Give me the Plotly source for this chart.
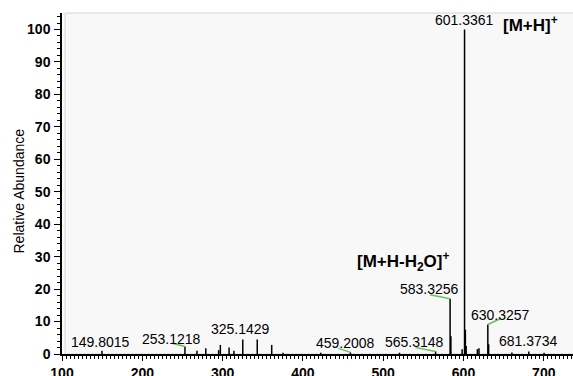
import plotly.graph_objects as go

# ---- data ----
mz = [149.8015, 253.1218, 268.1, 279.1, 295.1, 297.2, 308.1, 314.1, 325.1429, 343.15,
      361.16, 375.2, 422.2, 459.2008, 520.3, 565.3148, 583.3256, 584.33, 598.3, 601.3361,
      602.34, 603.34, 617.3, 619.3, 630.3257, 631.33, 660.3, 681.3734, 700.4]
intensity = [1.0, 2.3, 1.0, 1.8, 1.2, 2.8, 2.0, 1.0, 4.5, 4.5,
             2.8, 0.4, 0.4, 0.5, 0.4, 0.8, 17.0, 5.5, 1.5, 100.0,
             7.5, 2.5, 1.5, 1.8, 9.1, 3.0, 0.5, 0.8, 0.4]

labelled_mz = [149.8015, 253.1218, 325.1429, 459.2008, 565.3148, 583.3256, 601.3361, 630.3257, 681.3734]
labelled_text = ["149.8015", "253.1218", "325.1429", "459.2008", "565.3148", "583.3256", "601.3361", "630.3257", "681.3734"]

x_ticks = [100, 200, 300, 400, 500, 600, 700]
y_ticks = [0, 10, 20, 30, 40, 50, 60, 70, 80, 90, 100]

# ---- layout constants ----
W, H = 573, 376
ML, MR, MT, MB = 62, 0, 13, 22
X_RANGE = [100, 736.4]
Y_RANGE = [0, 105.08]
px_per_x = (W - ML - MR) / (X_RANGE[1] - X_RANGE[0])
px_per_y = (H - MT - MB) / (Y_RANGE[1] - Y_RANGE[0])

# label pixel offsets (label centre relative to peak top)
label_shift = {149.8015: (-1, 9), 253.1218: (-13, 8), 325.1429: (-2, 10), 459.2008: (-5, 9),
               565.3148: (-21, 9), 583.3256: (-21, 9.5), 601.3361: (0, 9.5), 630.3257: (13, 9.5),
               681.3734: (0, 10)}
# green connector pixel offsets from peak top
connector = {253.1218: (-12, 3), 459.2008: (-12, 4), 565.3148: (-20, 4), 583.3256: (-20, 4),
             630.3257: (13, 6)}

peak_h = dict(zip(mz, intensity))

# stick spectrum
xs, ys = [], []
for m, h in zip(mz, intensity):
    xs += [m, m, None]
    ys += [0, h, None]

fig = go.Figure()
fig.add_trace(go.Scatter(x=xs, y=ys, mode="lines", line=dict(color="black", width=1.5),
                         hoverinfo="skip", showlegend=False))

FONT = "Liberation Sans, Arial, sans-serif"
annotations = []
for m, t in zip(labelled_mz, labelled_text):
    dx, dy = label_shift[m]
    annotations.append(dict(x=m, y=peak_h[m], xref="x", yref="y", text=t, showarrow=False,
                            xshift=dx, yshift=dy, xanchor="center", yanchor="middle",
                            font=dict(family=FONT, size=14, color="black")))

annotations.append(dict(x=601.3361, y=peak_h[601.3361], xref="x", yref="y",
                        text="<b>[M+H]<sup>+</sup></b>", showarrow=False,
                        xshift=66, yshift=5, xanchor="center", yanchor="middle",
                        font=dict(family=FONT, size=17, color="black")))
annotations.append(dict(x=583.3256, y=peak_h[583.3256], xref="x", yref="y",
                        text="<b>[M+H-H<sub>2</sub>O]<sup>+</sup></b>", showarrow=False,
                        xshift=-47, yshift=37, xanchor="center", yanchor="middle",
                        font=dict(family=FONT, size=17, color="black")))
annotations.append(dict(x=0, y=0.5, xref="paper", yref="paper", text="Relative Abundance",
                        textangle=-90, showarrow=False, xshift=-44, yshift=-8,
                        xanchor="center", yanchor="middle",
                        font=dict(family=FONT, size=14, color="black")))

shapes = [dict(type="rect", xref="paper", yref="paper", x0=0.006, x1=1.02, y0=0, y1=1,
               fillcolor="#f8f8f8", line=dict(color="#d4d4d4", width=1), layer="below")]
for m, (dx, dy) in connector.items():
    shapes.append(dict(type="line", xref="x", yref="y", x0=m, y0=peak_h[m],
                       x1=m + dx / px_per_x, y1=peak_h[m] + dy / px_per_y,
                       line=dict(color="#66c455", width=1.5)))

fig.update_layout(
    width=W, height=H, margin=dict(l=ML, r=MR, t=MT, b=MB, autoexpand=False),
    paper_bgcolor="white", plot_bgcolor="rgba(0,0,0,0)",
    annotations=annotations, shapes=shapes,
    font=dict(family=FONT, color="black"),
)
fig.update_xaxes(range=X_RANGE, tickvals=x_ticks, ticktext=[str(v) for v in x_ticks], automargin=False,
                 ticks="outside", ticklen=5, tickwidth=1.2, tickcolor="black",
                 showline=True, linecolor="black", linewidth=1.5, showgrid=False, zeroline=False,
                 minor=dict(dtick=5, ticks="outside", ticklen=3, tickcolor="black", tickwidth=1, showgrid=False),
                 tickfont=dict(family=FONT, size=14, color="black", weight="bold"), ticklabelstandoff=0)
fig.update_yaxes(range=Y_RANGE, tickvals=y_ticks, ticktext=[str(v) for v in y_ticks], automargin=False,
                 ticks="outside", ticklen=6, tickwidth=1.2, tickcolor="black",
                 showline=True, linecolor="black", linewidth=1.5, showgrid=False, zeroline=False,
                 minor=dict(dtick=2, ticks="outside", ticklen=3, tickcolor="black", tickwidth=1, showgrid=False),
                 tickfont=dict(family=FONT, size=14, color="black", weight="bold"), ticklabelstandoff=1)

fig.write_html("out.html", config={"displayModeBar": False},
               post_script="document.body.style.margin='0px';")
